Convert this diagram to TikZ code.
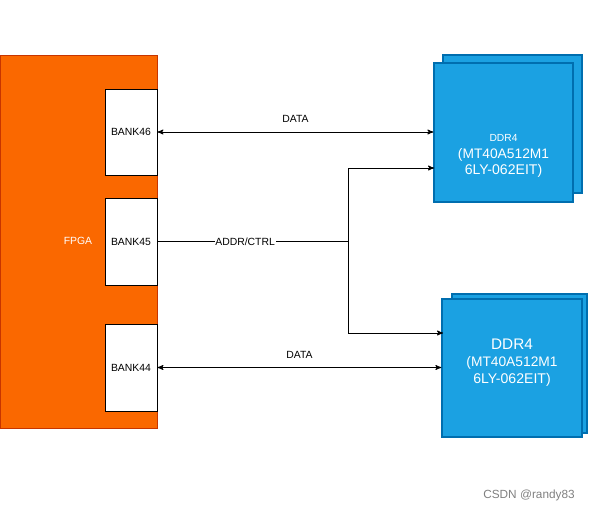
\documentclass[tikz,border=0pt]{standalone}
\usepackage{fontspec}
\setmainfont{Liberation Sans}
\usepackage{tikz}
\usetikzlibrary{arrows, positioning}
\definecolor{fpgaorange}{HTML}{FA6800}
\definecolor{fpgaedge}{HTML}{C73500}
\definecolor{ddrblue}{HTML}{1BA1E2}
\definecolor{ddredge}{HTML}{006EAF}
\tikzset{>=stealth',shorten >=0pt,
    chip/.style={rectangle,draw=fpgaedge,fill=fpgaorange,minimum width=3.925cm,minimum height=9.325cm},
    bank/.style={rectangle,draw,fill=white,minimum width=1.3cm,minimum height=2.175cm,
        font=\fontsize{7.4}{9}\selectfont},
    ddr/.style={rectangle,draw=ddredge,fill=ddrblue,line width=0.8pt},
    ddrtext/.style={text=white,align=center},
    textnode/.style={font=\fontsize{7.4}{9}\selectfont}}

\begin{document}
\begin{tikzpicture}[x=0.025cm,y=-0.025cm,line width=0.6pt]
\useasboundingbox (0,0) rectangle (591,512);
\node[chip] (fpga) at (78.5,241.5) {};
\node[textnode,text=white] (fpgalbl) at (78,241) {FPGA};
\node[bank,minimum height=2.15cm] (b46) at (131,132) {BANK46};
\node[bank] (b45) at (131,241.5) {BANK45};
\node[bank] (b44) at (131,367.5) {BANK44};

\node[ddr,minimum width=3.475cm,minimum height=3.45cm] (ddrAback) at (512.5,124) {};
\node[ddr,minimum width=3.475cm,minimum height=3.475cm] (ddrA) at (503.5,132.5) {};
\node[ddrtext] (ddrAtxt) at (503.5,156)
    {\fontsize{7.3}{11.3}\selectfont DDR4\\\fontsize{9.8}{11.3}\selectfont (MT40A512M1\\6LY-062EIT)};
\node[ddr,minimum width=3.375cm,minimum height=3.475cm] (ddrBback) at (519.5,363.5) {};
\node[ddr,minimum width=3.5cm,minimum height=3.45cm] (ddrB) at (512,368) {};
\node[ddrtext] (ddrBtxt) at (512,363)
    {\fontsize{10.9}{12.5}\selectfont DDR4\\\fontsize{9.8}{12}\selectfont (MT40A512M1\\6LY-062EIT)};

\coordinate (split) at (348,241.5);
\coordinate (ddrAin) at (434,168);
\coordinate (ddrBin) at (443,333);

\draw[<->] (b46.east) -- node[textnode,above=3pt] {DATA} (b46.east -| ddrA.west);
\draw[<->] (b44.east) -- node[textnode,above=3pt] {DATA} (b44.east -| ddrB.west);
\draw (b45.east) -- node[textnode,fill=white,inner sep=0.5pt,pos=0.46] {ADDR/CTRL} (split);
\draw[->] (split) |- (ddrAin);
\draw[->] (split) |- (ddrBin);

\node[text=gray,font=\fontsize{8.4}{10}\selectfont] (mark) at (529,495) {CSDN @randy83};
\end{tikzpicture}
\end{document}
